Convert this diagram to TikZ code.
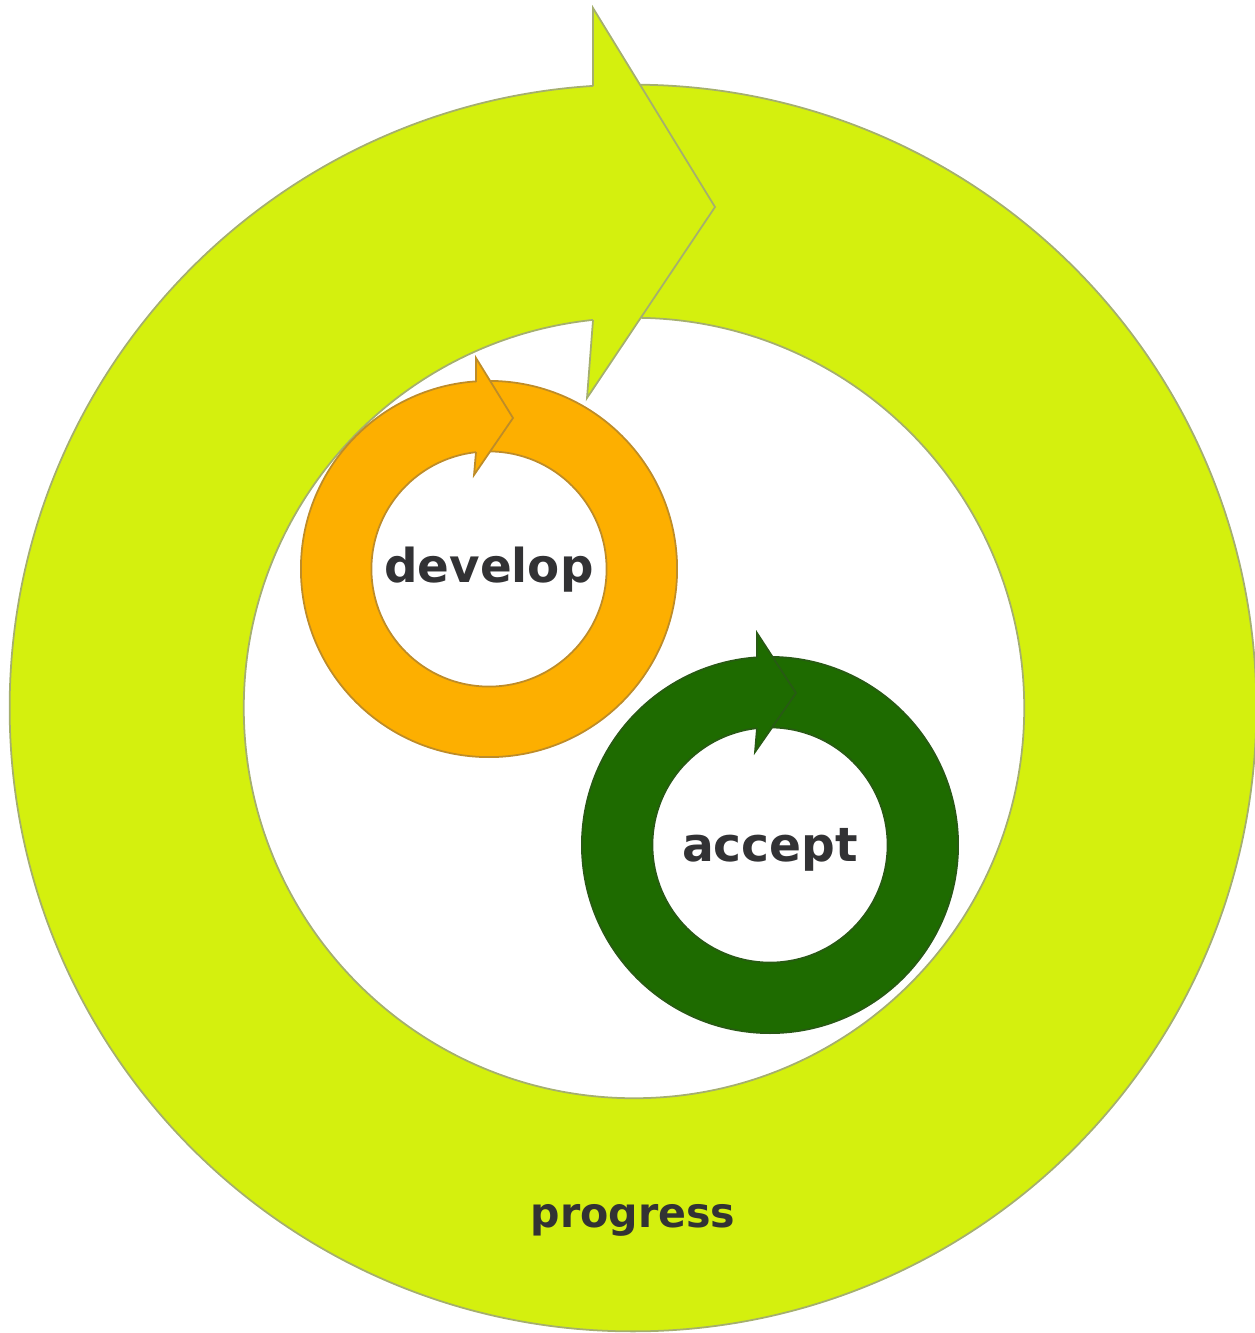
\documentclass[tikz,border=0pt]{standalone}
\usepackage{fontspec}
\setmainfont{DejaVu Sans}
\definecolor{lime}{RGB}{212,240,14}
\definecolor{limeedge}{RGB}{165,175,110}
\definecolor{orng}{RGB}{253,175,0}
\definecolor{orngedge}{RGB}{190,140,40}
\definecolor{dgreen}{RGB}{30,107,0}
\definecolor{dgreenedge}{RGB}{40,90,20}
\definecolor{txt}{RGB}{50,50,52}
\tikzset{
  ringlime/.style={fill=lime, draw=limeedge, line width=0.5pt, even odd rule},
  ringorng/.style={fill=orng, draw=orngedge, line width=0.5pt, even odd rule},
  ringgreen/.style={fill=dgreen, draw=dgreenedge, line width=0.5pt, even odd rule},
  label/.style={inner sep=0pt, anchor=base, text=txt}
}
\begin{document}
\begin{tikzpicture}[x=0.01cm, y=-0.01cm]
\useasboundingbox (0,0) rectangle (1255,1333);
% big progress ring
\path[ringlime] (633,708) circle (6.23cm) (634,708) circle (3.90cm);
\fill[lime] (593,8) -- (715,207) -- (587,398) -- (593,320) -- (593,86) -- cycle;
\draw[limeedge, line width=0.5pt, line join=miter] (593,86) -- (593,8) -- (715,207) -- (587,398) -- (593,320);
% develop ring
\path[ringorng] (489,569) circle (1.88cm) (489,569) circle (1.175cm);
\fill[orng] (476,358) -- (513,418) -- (474,475) -- (476,452) -- (476,382) -- cycle;
\draw[orngedge, line width=0.5pt] (476,382) -- (476,358) -- (513,418) -- (474,475) -- (476,452);
% accept ring
\path[ringgreen] (770,845) circle (1.88cm) (770,845) circle (1.175cm);
\fill[dgreen] (757,633) -- (796,693) -- (755,752) -- (757,728) -- (757,658) -- cycle;
\draw[dgreenedge, line width=0.5pt] (757,658) -- (757,633) -- (796,693) -- (755,752) -- (757,728);
% labels
\node[label, font=\fontsize{13.3pt}{15pt}\bfseries] (develop) at (489,582) {develop};
\node[label, font=\fontsize{13.4pt}{15pt}\bfseries] (accept) at (770,861) {accept};
\node[label, font=\fontsize{11.7pt}{13pt}\bfseries] (progress) at (633,1227) {progress};
\end{tikzpicture}
\end{document}
